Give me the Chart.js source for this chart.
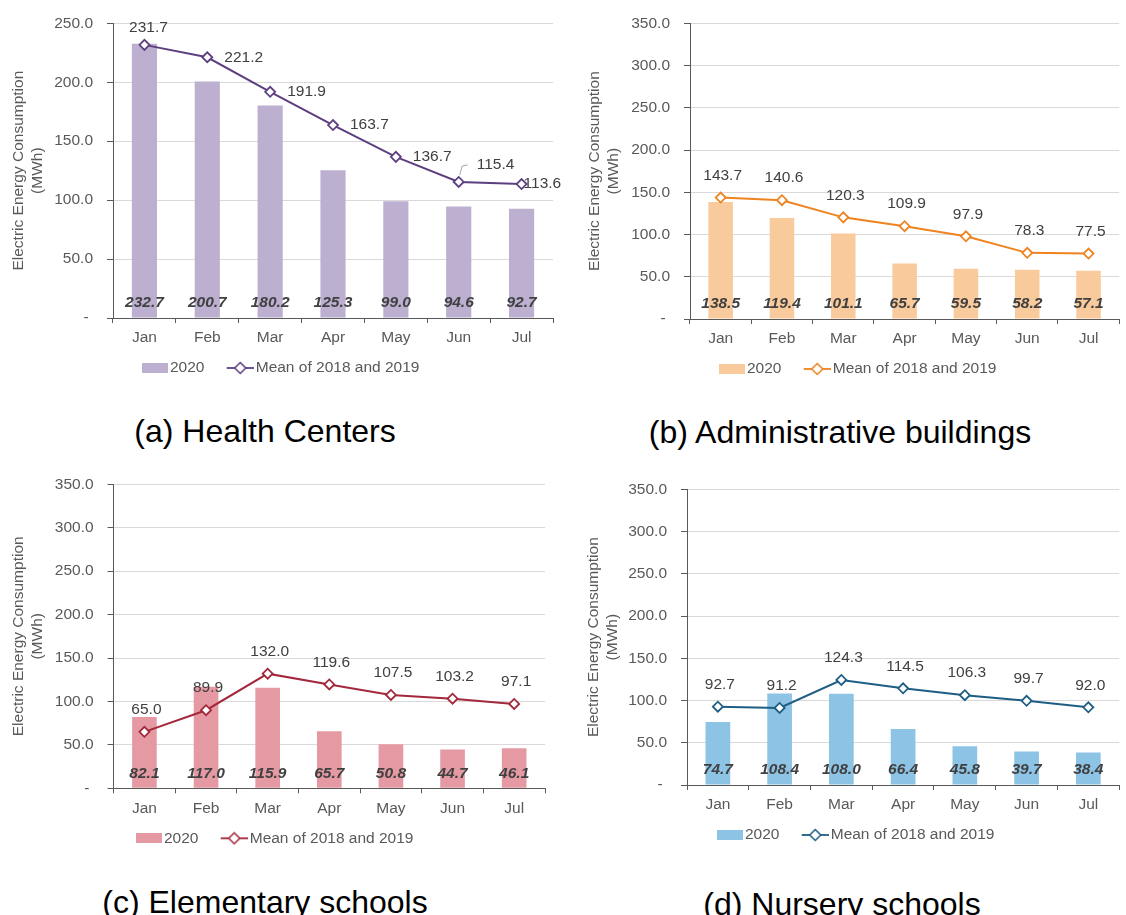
<!DOCTYPE html>
<html>
<head>
<meta charset="utf-8">
<script src="https://cdn.jsdelivr.net/npm/chart.js@4.4.1/dist/chart.umd.min.js"></script>
<style>
  html, body { margin: 0; padding: 0; background: #fff; }
  body { width: 1126px; height: 915px; position: relative; overflow: hidden; font-family: "Liberation Sans", Arial, sans-serif; }
  .panel { position: absolute; }
  .caption { position: absolute; width: 500px; margin-left: -250px; text-align: center; font-size: 32px; line-height: 32px; color: #000; white-space: nowrap; }
</style>
</head>
<body>
<div class="panel" id="wrap-health"><canvas id="chart-health"></canvas></div>
<div class="panel" id="wrap-admin"><canvas id="chart-admin"></canvas></div>
<div class="panel" id="wrap-elem"><canvas id="chart-elem"></canvas></div>
<div class="panel" id="wrap-nursery"><canvas id="chart-nursery"></canvas></div>

<div class="caption" style="left:265px;top:415px">(a) Health Centers</div>
<div class="caption" style="left:840px;top:416px">(b) Administrative buildings</div>
<div class="caption" style="left:265px;top:886px">(c) Elementary schools</div>
<div class="caption" style="left:842px;top:888px">(d) Nursery schools</div>

<script>
// --- data (MWh) ---
const months = ['Jan', 'Feb', 'Mar', 'Apr', 'May', 'Jun', 'Jul'];
const seriesNames = ['2020', 'Mean of 2018 and 2019'];

const health2020 = [232.7, 200.7, 180.2, 125.3, 99.0, 94.6, 92.7];
const healthMean = [231.7, 221.2, 191.9, 163.7, 136.7, 115.4, 113.6];

const admin2020 = [138.5, 119.4, 101.1, 65.7, 59.5, 58.2, 57.1];
const adminMean = [143.7, 140.6, 120.3, 109.9, 97.9, 78.3, 77.5];

const elem2020 = [82.1, 117.0, 115.9, 65.7, 50.8, 44.7, 46.1];
const elemMean = [65.0, 89.9, 132.0, 119.6, 107.5, 103.2, 97.1];

const nursery2020 = [74.7, 108.4, 108.0, 66.4, 45.8, 39.7, 38.4];
const nurseryMean = [92.7, 91.2, 124.3, 114.5, 106.3, 99.7, 92.0];

const yMaxHealth = 250;
const yMaxOther = 350;
const yStep = 50;
const yTitle = ['Electric Energy Consumption', '(MWh)'];

// --- styling / layout ---
const FONT = '"Liberation Sans", Arial, sans-serif';
const FS = 15.5;
const LEGEND_PAD = 10;
const BOX_W = 33.5;                    // legend box slot, swatch sits at its right end
const X_H = 50 - LEGEND_PAD - FS / 2;  // legend centre 50px under the x axis
const LEGEND_H = FS + LEGEND_PAD + 10;

Chart.defaults.font.family = FONT;
Chart.defaults.font.size = FS;
Chart.defaults.color = '#595959';

// x values in page pixels, y values relative to the panel top
const panels = [
  { id: 'chart-health', wrap: 'wrap-health', pageTop: 0, bars: health2020, mean: healthMean, yMax: yMaxHealth,
    barColor: '#BCAFD0', lineColor: '#5D3F80',
    edgeLeft: -4.8, edgeRight: 566, left: 113, right: 553, top: 18, bottom: 318, titlePad: 14.5,
    labelPos: ['top', 'right', 'right', 'right', 'right', 'callout', 'inside'], above: 17 },
  { id: 'chart-admin', wrap: 'wrap-admin', pageTop: 0, bars: admin2020, mean: adminMean, yMax: yMaxOther,
    barColor: '#F9CA9C', lineColor: '#EF831F',
    edgeLeft: 578.2, edgeRight: 1126, left: 690, right: 1124, top: 18, bottom: 319, titlePad: 7.5,
    labelPos: null, above: 22 },
  { id: 'chart-elem', wrap: 'wrap-elem', pageTop: 460, bars: elem2020, mean: elemMean, yMax: yMaxOther,
    barColor: '#E59AA3', lineColor: '#A3283B',
    edgeLeft: -8.8, edgeRight: 566, left: 113.6, right: 545, top: 24.3, bottom: 328.3, titlePad: 18.3,
    labelPos: null, above: 22 },
  { id: 'chart-nursery', wrap: 'wrap-nursery', pageTop: 460, bars: nursery2020, mean: nurseryMean, yMax: yMaxOther,
    barColor: '#8DC4E6', lineColor: '#1E5E84',
    edgeLeft: 575.2, edgeRight: 1126, left: 687, right: 1123, top: 29.3, bottom: 325, titlePad: 9.5,
    labelPos: null, above: 22 },
];

// legend swatches: drawn at the right end of a wider transparent image
function barSwatch(color) {
  const c = document.createElement('canvas');
  c.width = 45; c.height = 10;
  const g = c.getContext('2d');
  g.fillStyle = color;
  g.fillRect(19, 0, 26, 10);
  return c;
}

function lineSwatch(color) {
  const c = document.createElement('canvas');
  c.width = 45; c.height = 14;
  const g = c.getContext('2d');
  g.strokeStyle = color;
  g.lineWidth = 1.8;
  g.beginPath(); g.moveTo(18, 7); g.lineTo(45, 7); g.stroke();
  g.beginPath();
  g.moveTo(31.5, 1.5); g.lineTo(37, 7); g.lineTo(31.5, 12.5); g.lineTo(26, 7); g.closePath();
  g.fillStyle = '#fff'; g.fill();
  g.lineWidth = 1.5; g.stroke();
  return c;
}

// data labels: bold italic at bar foot, plain near each marker
const valueLabels = {
  id: 'valueLabels',
  afterDatasetsDraw(chart, args, opts) {
    const ctx = chart.ctx;
    const zeroY = chart.scales.y.getPixelForValue(0);
    ctx.save();
    ctx.fillStyle = '#404040';
    ctx.textBaseline = 'middle';

    ctx.font = 'italic bold ' + FS + 'px ' + FONT;
    ctx.textAlign = 'center';
    const barData = chart.data.datasets[0].data;
    chart.getDatasetMeta(0).data.forEach((bar, i) => {
      ctx.fillText(barData[i].toFixed(1), bar.x, zeroY - 15);
    });

    ctx.font = FS + 'px ' + FONT;
    const lineData = chart.data.datasets[1].data;
    chart.getDatasetMeta(1).data.forEach((pt, i) => {
      const text = lineData[i].toFixed(1);
      const pos = opts.positions ? opts.positions[i] : 'top';
      if (pos === 'right') {
        ctx.textAlign = 'left';
        ctx.fillText(text, pt.x + 17, pt.y);
      } else if (pos === 'callout') {
        ctx.strokeStyle = '#A6A6A6';
        ctx.lineWidth = 1;
        ctx.beginPath();
        ctx.moveTo(pt.x + 1, pt.y - 7);
        ctx.lineTo(pt.x + 3.5, pt.y - 16);
        ctx.lineTo(pt.x + 9, pt.y - 17);
        ctx.stroke();
        ctx.textAlign = 'left';
        ctx.fillText(text, pt.x + 18, pt.y - 17);
      } else if (pos === 'inside') {
        ctx.textAlign = 'left';
        ctx.fillText(text, pt.x + 2, pt.y);
      } else {
        ctx.textAlign = 'center';
        ctx.fillText(text, pt.x + (opts.above < 20 ? 4 : 2), pt.y - opts.above);
      }
    });
    ctx.restore();
  }
};

panels.forEach((p) => {
  const originX = Math.floor(p.edgeLeft);
  const padLeft = p.edgeLeft - originX;
  const w = p.edgeRight - originX;
  const h = Math.ceil(p.bottom + X_H + LEGEND_H + 2);

  const wrap = document.getElementById(p.wrap);
  wrap.style.left = originX + 'px';
  wrap.style.top = p.pageTop + 'px';

  const canvas = document.getElementById(p.id);
  canvas.width = w;
  canvas.height = h;
  canvas.style.width = w + 'px';
  canvas.style.height = h + 'px';

  const swatches = [barSwatch(p.barColor), lineSwatch(p.lineColor)];

  new Chart(canvas.getContext('2d'), {
    type: 'bar',
    data: {
      labels: months,
      datasets: [
        {
          type: 'bar', label: seriesNames[0], data: p.bars,
          backgroundColor: p.barColor, borderWidth: 0,
          barPercentage: 0.4, categoryPercentage: 1.0, order: 2,
        },
        {
          type: 'line', label: seriesNames[1], data: p.mean,
          borderColor: p.lineColor, borderWidth: 2, tension: 0,
          pointStyle: 'rectRot', pointRadius: 5, pointBorderWidth: 1.8,
          pointBackgroundColor: '#fff', pointBorderColor: p.lineColor,
          clip: false, order: 1,
        },
      ],
    },
    options: {
      responsive: false,
      animation: false,
      events: [],
      layout: {
        padding: {
          top: p.top,
          left: padLeft,
          right: p.edgeRight - p.right,
          bottom: h - p.bottom - X_H - LEGEND_H,
        },
      },
      plugins: {
        tooltip: { enabled: false },
        legend: {
          position: 'bottom',
          labels: {
            usePointStyle: true,
            pointStyleWidth: BOX_W,
            padding: LEGEND_PAD,
            color: '#595959',
            font: { size: FS },
            generateLabels: (chart) => chart.data.datasets.map((ds, i) => ({
              text: ds.label,
              pointStyle: swatches[i],
              fillStyle: 'transparent',
              strokeStyle: 'transparent',
              lineWidth: 0,
              hidden: false,
              datasetIndex: i,
              fontColor: '#595959',
            })),
          },
        },
        valueLabels: { positions: p.labelPos, above: p.above },
      },
      scales: {
        x: {
          ticks: { color: '#595959', font: { size: FS }, padding: 5.7 },
          grid: { drawOnChartArea: false, offset: true, tickLength: 5, tickColor: '#595959' },
          border: { color: '#595959', width: 1 },
          afterFit: (s) => { s.height = X_H; },
        },
        y: {
          min: 0,
          max: p.yMax,
          ticks: {
            stepSize: yStep,
            color: '#595959',
            font: { size: FS },
            padding: 14,
            callback: (v) => (v === 0 ? '- ' : v.toFixed(1)),
          },
          grid: { color: '#D9D9D9', lineWidth: 1, tickLength: 6, tickColor: '#595959' },
          border: { color: '#595959', width: 1 },
          title: {
            display: true,
            text: yTitle,
            color: '#595959',
            font: { size: FS },
            padding: { top: p.titlePad, bottom: 0 },
          },
          afterFit: (s) => { s.width = p.left - p.edgeLeft; },
        },
      },
    },
    plugins: [valueLabels],
  });
});
</script>
</body>
</html>
